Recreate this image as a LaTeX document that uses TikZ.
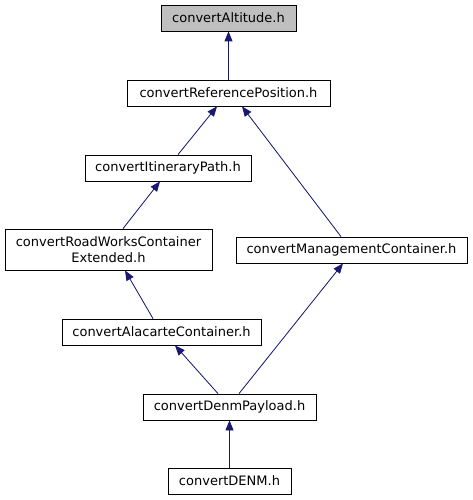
\documentclass[tikz,border=0pt]{standalone}
\usepackage{fontspec}
\setmainfont{DejaVu Sans}
\usetikzlibrary{arrows.meta}

\definecolor{edgeblue}{HTML}{191970}
\definecolor{rootgray}{HTML}{BFBFBF}

\begin{document}
\begin{tikzpicture}[x=1pt, y=-1pt, >={Triangle[length=10pt,width=8pt]}]
    \tikzset{
      file/.style={draw=black, fill=white, line width=0.8pt, inner sep=0pt,
        minimum height=26pt, font=\fontsize{13}{15.5}\selectfont, align=center},
      root/.style={file, fill=rootgray},
      edge/.style={<-, draw=edgeblue, fill=edgeblue, line width=0.8pt}
    }
    \useasboundingbox (0,0) rectangle (472,500);

    % Include graph nodes
    \node[root, minimum width=135pt] (altitude) at (228.5,18) {convertAltitude.h};
    \node[file, minimum width=203pt] (refpos) at (228.5,93) {convertReferencePosition.h};
    \node[file, minimum width=166pt] (itinerary) at (168,168) {convertItineraryPath.h};
    \node[file, minimum width=207pt, minimum height=41pt] (roadworks) at (108.5,249.5)
      {convertRoadWorksContainer\\Extended.h};
    \node[file, minimum width=231pt] (management) at (351.5,250) {convertManagementContainer.h};
    \node[file, minimum width=199pt] (alacarte) at (161.5,332) {convertAlacarteContainer.h};
    \node[file, minimum width=173pt] (payload) at (229.5,407) {convertDenmPayload.h};
    \node[file, minimum width=123pt] (denm) at (229.5,481) {convertDENM.h};

    % Dependencies
    \draw[edge] (altitude) -- (refpos);
    \draw[edge] ([xshift=-11.5pt]refpos.south) -- ([xshift=10pt]itinerary.north);
    \draw[edge] ([xshift=13.5pt]refpos.south) -- ([xshift=-10.5pt]management.north);
    \draw[edge] ([xshift=-8pt]itinerary.south) -- ([xshift=14.5pt]roadworks.north);
    \draw[edge] ([xshift=16.5pt]roadworks.south) -- ([xshift=-8.5pt]alacarte.north);
    \draw[edge] ([xshift=13.5pt]alacarte.south) -- ([xshift=-11.5pt]payload.north);
    \draw[edge] ([xshift=-8.5pt]management.south) -- ([xshift=9.5pt]payload.north);
    \draw[edge] (payload) -- (denm);
  \end{tikzpicture}
\end{document}
